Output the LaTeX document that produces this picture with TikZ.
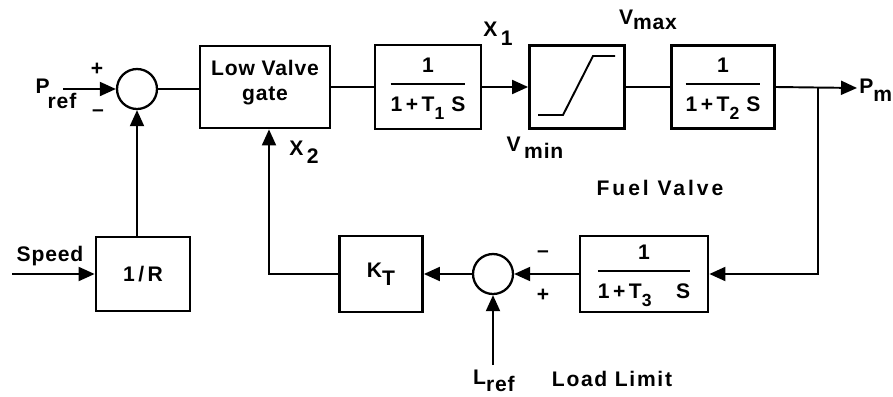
\documentclass[tikz,border=0pt]{standalone}
\usepackage{fontspec}
\setmainfont[LetterSpace=4]{Liberation Sans}
\usetikzlibrary{arrows.meta}
\tikzset{
  blk/.style={draw,line width=1.6pt,inner sep=2pt,font=\large\bfseries,align=center},
  sumjn/.style={draw,circle,line width=1.3pt,minimum size=0.8cm,inner sep=0pt},
  sig/.style={line width=1.1pt},
  sigarr/.style={sig,-{Triangle[length=0.32cm,width=0.28cm]}},
  lbl/.style={font=\large\bfseries,inner sep=1pt}
}
% 1/(1+T S)
\newcommand{\lagtf}[2][\,]{{\setlength{\arrayrulewidth}{1.1pt}%
  \begin{tabular}{@{}c@{}}1\\[2pt]\hline\rule{0pt}{15pt}1\,+\,T\raisebox{-0.7ex}{\normalsize #2}#1\,S\end{tabular}}}
\begin{document}
\begin{tikzpicture}[x=0.02cm,y=-0.02cm]
\useasboundingbox (0,0) rectangle (893,396);
% blocs de la ligne du haut
\node[sumjn] (sum1) at (137,89) {};
\node[blk,minimum width=2.6cm,minimum height=1.64cm] (lvg) at (265,87) {Low Valve\\gate\\[-6.5pt]};
\node[blk,minimum width=2.12cm,minimum height=1.68cm] (lag1) at (428,87) {\lagtf{1}};
\node[blk,minimum width=1.9cm,minimum height=1.66cm] (lim) at (577,87) {};
\node[blk,minimum width=2.06cm,minimum height=1.66cm] (lag2) at (723,87) {\lagtf{2}};
% blocs du bas
\node[blk,minimum width=1.88cm,minimum height=1.48cm] (droop) at (143,274) {1\,/\,R};
\node[blk,minimum width=1.66cm,minimum height=1.52cm] (kt) at (381,274) {K\raisebox{-0.7ex}{T}};
\node[sumjn] (sum2) at (493,274) {};
\node[blk,minimum width=2.56cm,minimum height=1.52cm] (lag3) at (644,274) {\lagtf[\quad]{3}};
% limiteur
\draw[sig] ([shift={(-39,28)}]lim.center) -- ++(25,0) -- ++(30,-59) -- ++(22,0);
% points libres
\coordinate (pin) at (63,89);
\coordinate (spd) at (12,274);
\coordinate (lref) at (493,365);
\coordinate (pm) at (857,88);
\coordinate (br) at (818,88);
% liaisons
\draw[sigarr] (pin) -- (sum1.west);
\draw[sig] (sum1.east) -- (sum1.east -| lvg.west);
\draw[sig] (lvg.east) -- (lag1.west);
\draw[sigarr] (lag1.east) -- (lim.west);
\draw[sig] (lim.east) -- (lag2.west);
\draw[sigarr] (lag2.east) -- (pm);
\draw[sigarr] (br) |- (lag3.east);
\draw[sigarr] (lag3.west) -- (sum2.east);
\draw[sigarr] (sum2.west) -- (kt.east);
\draw[sigarr] (kt.west) -| ([xshift=4*0.02cm]lvg.south);
\draw[sigarr] (sum1.south |- droop.north) -- (sum1.south);
\draw[sigarr] (spd) -- (droop.west);
\draw[sigarr] (lref) -- (sum2.south);
% textes
\node[lbl] (preflbl) at (56,94) {P\kern-0.1em\raisebox{-1.4ex}{ref}};
\node[lbl] (plus1) at (97,69) {+};
\node[lbl] (minus1) at (98,113) {--};
\node[lbl] (x1lbl) at (498,34) {X\,\raisebox{-0.8ex}{1}};
\node[lbl] (x2lbl) at (304,152) {X\,\raisebox{-0.7ex}{2}};
\node[lbl] (vmaxlbl) at (648,20) {V\raisebox{-0.4ex}{max}};
\node[lbl] (vminlbl) at (535,148) {V\,\raisebox{-0.6ex}{min}};
\node[lbl,anchor=west,inner sep=0pt] (pmlbl) at (859,90) {P\raisebox{-0.7ex}{m}};
\node[lbl] (fuellbl) at (660,188) {\addfontfeature{LetterSpace=14}Fuel Valve};
\node[lbl] (speedlbl) at (50,256) {Speed};
\node[lbl] (minus2) at (543,254) {--};
\node[lbl] (plus2) at (543,295) {+};
\node[lbl] (lreflbl) at (494,381) {L\raisebox{-0.6ex}{ref}};
\node[lbl] (loadlbl) at (612,379) {\addfontfeature{LetterSpace=8}Load Limit};
\end{tikzpicture}
\end{document}
